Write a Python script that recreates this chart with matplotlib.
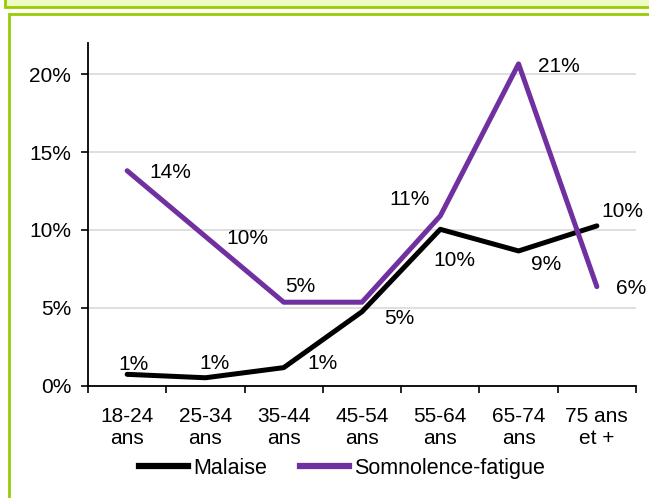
import numpy as np
import matplotlib
matplotlib.use("Agg")
import matplotlib.pyplot as plt
from matplotlib.patches import Rectangle
from matplotlib.ticker import FuncFormatter, FixedLocator

plt.rcParams['font.family'] = ['Liberation Sans', 'DejaVu Sans']

# data (shares of respondents, %)
categories = ["18-24\nans", "25-34\nans", "35-44\nans", "45-54\nans",
              "55-64\nans", "65-74\nans", "75 ans\net +"]
malaise = [0.73, 0.51, 1.16, 4.75, 10.04, 8.65, 10.26]
somnolence = [13.8, 9.58, 5.36, 5.36, 10.9, 20.66, 6.36]
malaise_labels = ["1%", "1%", "1%", "5%", "10%", "9%", "10%"]
somnolence_labels = ["14%", "10%", "5%", None, "11%", "21%", "6%"]

# label offsets in pixels (dx, dy)
malaise_off = [(6, 10), (9, 14), (39, 4), (37, -7), (14, -31), (28, -14), (26, 14)]
somnolence_off = [(43, -2), (42, -2), (17, 16), (0, 0), (-31, 16), (40, -3), (34, -2)]

purple = "#7030A0"
green = "#99CC00"
FS = 15

W, H = 649, 498
fig = plt.figure(figsize=(W / 100, H / 100), dpi=100)


def box(x0, y0, x1, y1, **kw):
    # rectangle given in image pixels (y down)
    fig.add_artist(Rectangle((x0 / W, 1 - y1 / H), (x1 - x0) / W, (y1 - y0) / H,
                             transform=fig.transFigure, zorder=-5, **kw))


# decorative frames
box(5, -20, 700, 7, facecolor="#EEFBC4", edgecolor=green, linewidth=2)
box(9, 14, 700, 520, facecolor="white", edgecolor=green, linewidth=2)

ax = fig.add_axes([88 / W, 1 - 385.7 / H, (636 - 88) / W, (385.7 - 43) / H])
ax.patch.set_alpha(0)
x = np.arange(len(categories))

ax.plot(x, malaise, color="black", lw=3.6, solid_capstyle="round", zorder=3)
ax.plot(x, somnolence, color=purple, lw=3.6, solid_capstyle="round", zorder=3)

for xi, v, lab, off in zip(x, malaise, malaise_labels, malaise_off):
    if lab:
        ax.annotate(lab, (xi, v), xytext=off, textcoords="offset pixels",
                    ha="center", va="center", fontsize=FS)
for xi, v, lab, off in zip(x, somnolence, somnolence_labels, somnolence_off):
    if lab:
        ax.annotate(lab, (xi, v), xytext=off, textcoords="offset pixels",
                    ha="center", va="center", fontsize=FS)

ax.set_xlim(-0.5, len(categories) - 0.5)
ax.set_ylim(0, 22)
ax.set_yticks([0, 5, 10, 15, 20])
ax.yaxis.set_major_formatter(FuncFormatter(lambda v, p: f"{v:.0f}%"))
ax.yaxis.grid(True, color="#D9D9D9", lw=1.2)
ax.set_axisbelow(True)

ax.xaxis.set_major_locator(FixedLocator(np.arange(-0.5, len(categories), 1)))
ax.xaxis.set_major_formatter(FuncFormatter(lambda v, p: ""))
ax.xaxis.set_minor_locator(FixedLocator(x))
ax.set_xticklabels(categories, minor=True)
ax.tick_params(axis="x", which="minor", length=0, pad=15, labelsize=FS)
ax.tick_params(axis="x", which="major", length=5, width=1.2, direction="out")
ax.tick_params(axis="y", length=5, width=1.2, direction="out", pad=7, labelsize=FS)
for lbl in ax.get_xticklabels(minor=True):
    lbl.set_linespacing(1.2)

for s in ["top", "right"]:
    ax.spines[s].set_visible(False)
for s in ["left", "bottom"]:
    ax.spines[s].set_linewidth(1.3)

handles = [plt.Line2D([], [], color="black", lw=4.5),
           plt.Line2D([], [], color=purple, lw=4.5)]
fig.legend(handles, ["Malaise", "Somnolence-fatigue"], loc="center",
           bbox_to_anchor=(342 / W, 1 - 468 / H), ncol=2, frameon=False,
           fontsize=15.5, handlelength=2.3, handletextpad=0.25, columnspacing=1.5)

fig.savefig("out.png", dpi=100)
